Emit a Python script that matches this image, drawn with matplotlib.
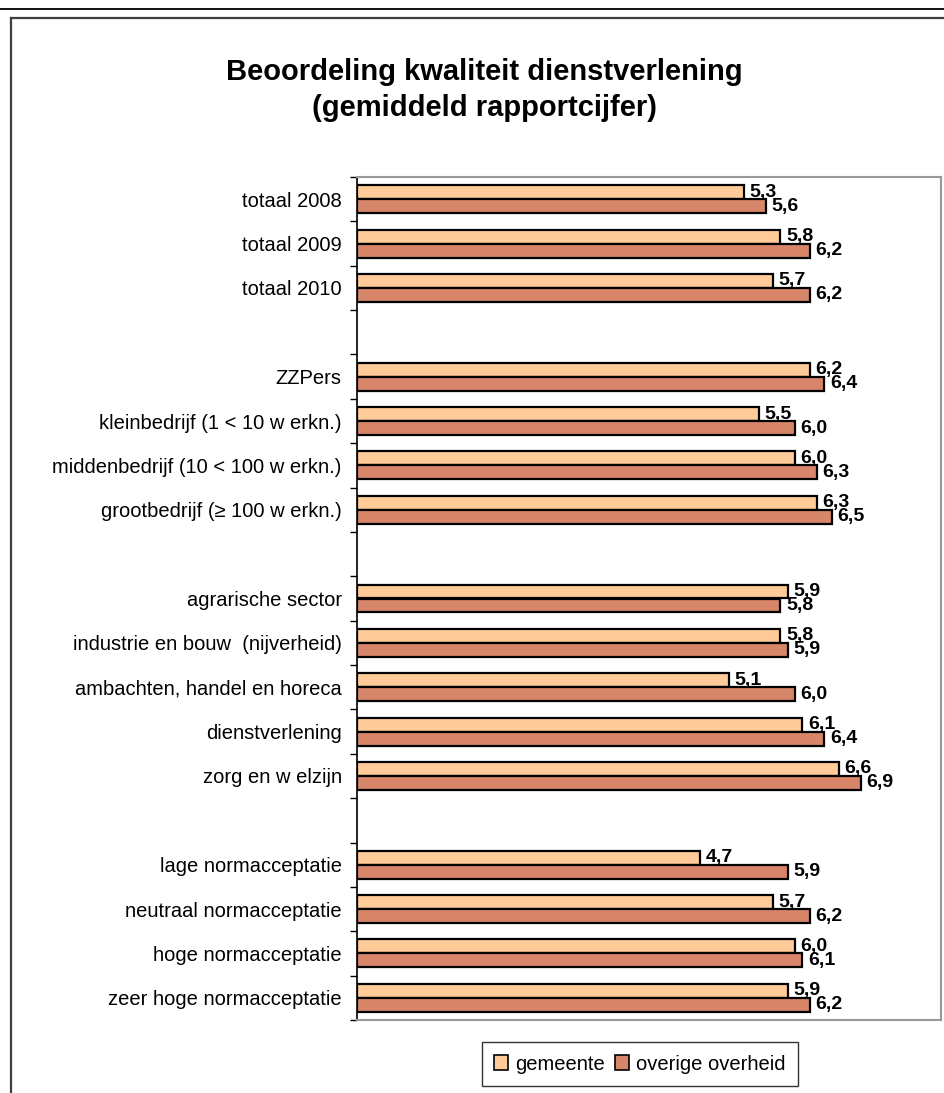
import matplotlib
matplotlib.use("Agg")
import matplotlib.pyplot as plt
from matplotlib.lines import Line2D
from matplotlib.patches import Patch

plt.rcParams['font.family'] = ['Liberation Sans', 'DejaVu Sans']

categories = [
    "totaal 2008", "totaal 2009", "totaal 2010", "",
    "ZZPers", "kleinbedrijf (1 < 10 w erkn.)", "middenbedrijf (10 < 100 w erkn.)",
    "grootbedrijf (\u2265 100 w erkn.)", "",
    "agrarische sector", "industrie en bouw  (nijverheid)", "ambachten, handel en horeca",
    "dienstverlening", "zorg en w elzijn", "",
    "lage normacceptatie", "neutraal normacceptatie", "hoge normacceptatie",
    "zeer hoge normacceptatie",
]
gemeente = [5.3, 5.8, 5.7, None, 6.2, 5.5, 6.0, 6.3, None,
            5.9, 5.8, 5.1, 6.1, 6.6, None, 4.7, 5.7, 6.0, 5.9]
overige = [5.6, 6.2, 6.2, None, 6.4, 6.0, 6.3, 6.5, None,
           5.8, 5.9, 6.0, 6.4, 6.9, None, 5.9, 6.2, 6.1, 6.2]
series_names = ["gemeente", "overige overheid"]
colors = ["#FFCC99", "#D8866A"]

W, H = 944, 1093
fig = plt.figure(figsize=(W / 100, H / 100), dpi=100)

# decorative lines / frame
fig.add_artist(Line2D([0, 1], [1 - 9 / H, 1 - 9 / H], color="black", lw=1.3))
fig.add_artist(Line2D([11 / W, 1.0], [1 - 18 / H, 1 - 18 / H], color="#404040", lw=1.6))
fig.add_artist(Line2D([11 / W, 11 / W], [0, 1 - 18 / H], color="#404040", lw=1.6))

left, right, top, bottom = 357, 941, 177, 1020
ax = fig.add_axes([left / W, 1 - bottom / H, (right - left) / W, (bottom - top) / H])

n = len(categories)
bh = 0.315
for i in range(n):
    for j, vals in enumerate([gemeente, overige]):
        v = vals[i]
        if v is None:
            continue
        yc = i + (j - 0.5) * bh
        ax.barh(yc, v, height=bh, color=colors[j], edgecolor="black", linewidth=1.6)
        ax.annotate(f"{v:.1f}".replace(".", ","), xy=(v, yc), xytext=(4, 0),
                    textcoords="offset points", ha="left", va="center",
                    fontsize=14, fontweight="bold")

ax.set_xlim(0, 8)
ax.set_ylim(n - 0.5, -0.5)
ax.set_xticks([])
ax.set_yticks([k - 0.5 for k in range(n + 1)])
ax.set_yticklabels([])
ax.tick_params(axis="y", which="major", length=5, width=1, color="black")
lab_pos = [i for i in range(n) if categories[i]]
ax.set_yticks(lab_pos, minor=True)
ax.set_yticklabels([categories[i] for i in lab_pos], minor=True, fontsize=14.5)
ax.tick_params(axis="y", which="minor", length=0, pad=11)

for s in ["top", "right", "bottom"]:
    ax.spines[s].set_color("#999999")
    ax.spines[s].set_linewidth(1.5)
ax.spines["left"].set_color("black")
ax.spines["left"].set_linewidth(1.2)

fig.text(0.513, 1 - 72 / H, "Beoordeling kwaliteit dienstverlening",
         ha="center", va="center", fontsize=21, fontweight="bold")
fig.text(0.513, 1 - 108 / H, "(gemiddeld rapportcijfer)",
         ha="center", va="center", fontsize=21, fontweight="bold")

handles = [Patch(facecolor=colors[k], edgecolor="black", linewidth=1.2) for k in range(2)]
leg = fig.legend(handles, series_names, loc="center", bbox_to_anchor=(640 / W, 1 - 1064 / H),
                 ncol=2, fontsize=14.5, frameon=True, fancybox=False, edgecolor="black",
                 handlelength=0.7, handleheight=0.7, handletextpad=0.35, columnspacing=0.5,
                 borderpad=0.6)
leg.get_frame().set_linewidth(1.0)

fig.savefig("out.png", dpi=100)
